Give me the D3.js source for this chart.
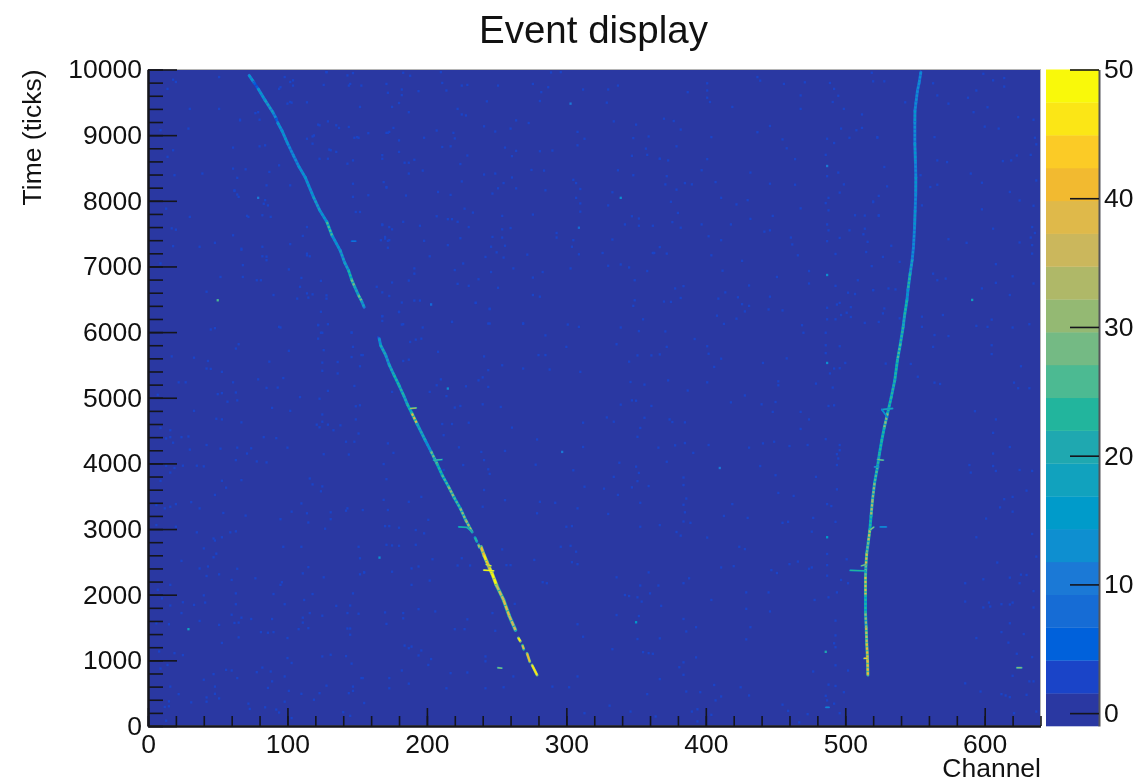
<!DOCTYPE html>
<html>
<head>
<meta charset="utf-8">
<title>Event display</title>
<script src="https://cdn.jsdelivr.net/npm/d3@7"></script>
<style>
  html, body { margin: 0; padding: 0; background: #fff; }
  svg { display: block; filter: blur(0.4px); }
  text { font-family: "Liberation Sans", Arial, sans-serif; fill: #111; }
</style>
</head>
<body>
<div id="chart"></div>
<script>
/* ---------- Data ---------- */

// colour bands, lowest value first (20 contours between -1 and 50)
const palette = ['#2a38a2', '#1a44c8', '#0061db', '#166cd5', '#1b79d6', '#0e8fd0', '#009bca', '#11a2be', '#1fa8b0', '#22b59d',
  '#4cba92', '#74ba84', '#94b973', '#afb868', '#cbb75c', '#dfb94a', '#f2ba30', '#fbcb26', '#fbe616', '#f9f90a'];
const xTicks = [0, 100, 200, 300, 400, 500, 600];
const yTicks = [0, 1000, 2000, 3000, 4000, 5000, 6000, 7000, 8000, 9000, 10000];
const zTicks = [0, 10, 20, 30, 40, 50];

// tracks: [channel, time, value]
const leftUpper = [[72.5,9910,16],[76,9800,6],[79,9706,15],[84,9530,17],[89.5,9350,14],[92,9250,6],[93,9190,16],[96,9072,15],
  [100,8880,14],[104.3,8690,13],[108,8530,15],[112.7,8360,15],[118.7,8056,17],[123,7860,16],[128.3,7676,26],[132,7470,15],
  [137.8,7245,18],[141,7060,17],[143.8,6940,24],[146,6800,28],[148,6700,20],[151,6560,28],[153,6480,18],[155,6380,14]];
const leftLower = [[165.8,5900,15],[166.8,5800,20],[170.5,5647,18],[173,5500,20],[176.5,5342,24],[180,5190,22],[183.3,5038,20],
  [186,4900,24],[189.3,4760,38],[193,4600,20],[198.8,4353,16],[203,4180,28],[207.2,3998,24],[211,3820,26],[215.6,3642,32],
  [219.5,3480,26],[224,3313,30],[228,3130,34],[232.4,2957,30]];
const leftBottom = [[238.8,2729,42],[241,2600,46],[243,2500,40],[245,2400,50],[246.7,2324,48],[250,2140,36],[255,1918,38],
  [259,1680,35],[263.5,1461,42]];
const leftDashes = [
  [[234.5,2870,22],[235.8,2810,22]], [[237,2760,34],[237.6,2720,34]],
  [[265.6,1340,45],[267,1290,45]], [[268.5,1230,38],[269.5,1170,38]],
  [[271.8,1106,42],[273.8,979,42]], [[275.4,928,45],[279,776,45]]];
const rightTrack = [[554.2,9960,12],[553,9800,14],[551.8,9680,13],[550.7,9500,14],[550,9376,15],[549.9,9200,14],[549.9,8870,15],
  [550.3,8600,13],[550.6,8360,15],[550.5,8100,14],[550.1,7854,16],[549.7,7600,13],[548.9,7295,14],[548,7100,17],[546.5,6890,22],
  [545,6650,16],[544.2,6484,24],[542.5,6250,20],[541.5,6078,22],[539.5,5820,26],[537.4,5571,24],[535.5,5266,22],[533,5012,24],
  [530.3,4760,30],[528,4550,24],[526.2,4353,24],[524.5,4150,22],[523.1,3947,26],[521,3700,30],[519.5,3440,33],[518.5,3200,24],
  [517.6,2983,36],[516.5,2800,28],[515.4,2629,38],[514.8,2450,28],[514.5,2272,38],[514.5,2000,24],[514.5,1715,30],[515,1500,36],
  [515.4,1259,42],[516,1000,40],[516.2,776,44]];
// short side branches and delta rays
const branches = [
  [[222.8,3033,24],[228.8,3024,22],[232.4,2957,24]],
  [[188,4836,36],[192.4,4845,40]],
  [[204.8,4049,26],[210.8,4059,22]],
  [[240.7,2374,50],[247.9,2364,50]],
  [[242.5,2460,46],[246,2440,46]],
  [[250.8,887,34],[253.8,880,20]],
  [[526.2,4820,20],[533.9,4836,24]],
  [[526.2,4820,16],[530.3,4700,24]],
  [[523.1,4059,30],[527.4,4049,26]],
  [[521,3947,18],[524,3947,18]],
  [[525,3033,14],[529.5,3033,14]],
  [[518,2990,32],[520.5,3030,28]],
  [[503.5,2370,24],[514.5,2364,36]],
  [[511.5,2440,32],[515,2460,36]],
  [[513.5,1030,44],[516,1030,44]],
  [[146,7385,10],[149,7385,10]],
  [[623,887,34],[626.5,887,34]],
  [[486,285,14],[488.5,285,14]]];

// isolated hits, mid blue
const speckles = [[45,6040],[48,6060],[94,6080],[122,6110],[129,6120],[124,5990],[122,5900],[146,5990],[65,5815],[63,5750],[147,5775],[101,5715],[126,5725],[17,5630],[33,5610],[43,5560],[146,5620],[154,5650],[87,5550],[125,5535],[136,5545],[42,5445],[45,5440],[53,5395],[125,5410],[152,5480],[136,5370],[97,5300],[79,5280],[22,5235],[27,5235],[61,5235],[85,5150],[93,5155],[148,5180],[129,5105],[50,5055],[53,5070],[63,5080],[7,5045],[109,5010],[123,4985],[57,4940],[64,4960],[149,4870],[152,4885],[89,4845],[102,4800],[33,4800],[125,4745],[49,4680],[53,4670],[149,4670],[67,4625],[121,4590],[125,4635],[129,4590],[138,4580],[123,4550],[9,4540],[16,4505],[133,4505],[151,4455],[16,4400],[24,4400],[29,4410],[83,4400],[92,4385],[13,4380],[18,4315],[42,4280],[142,4330],[148,4330],[52,4225],[64,4240],[74,4230],[100,4240],[30,4210],[71,4150],[126,4140],[144,4135],[63,4050],[78,4030],[85,4015],[25,3965],[35,3965],[40,3955],[13,3965],[19,3930],[16,3860],[67,3745],[53,3735],[9,3735],[116,3770],[118,3680],[125,3650],[124,3575],[56,3630],[48,3520],[6,3365],[20,3380],[31,3410],[16,3340],[37,3315],[12,3315],[110,3390],[103,3265],[54,3245],[70,3205],[114,3240],[131,3255],[142,3280],[154,3290],[143,3315],[95,3150],[131,3150],[115,3100],[127,3005],[6,3060],[20,3035],[35,2950],[59,2950],[63,2965],[47,2855],[48,2825],[53,2875],[97,2730],[110,2730],[40,2705],[151,2730],[49,2625],[47,2570],[152,2555],[24,2515],[37,2400],[43,2430],[64,2395],[115,2420],[111,2325],[51,2310],[42,2285],[155,2340],[152,2310],[60,2225],[77,2250],[126,2265],[96,2190],[95,2150],[16,2150],[7,2075],[90,2010],[118,2010],[147,2020],[63,2020],[40,1990],[10,1945],[25,1885],[41,1880],[112,1920],[63,1855],[98,1855],[33,1845],[16,1835],[135,1830],[145,1835],[24,1720],[116,1720],[125,1680],[143,1720],[151,1710],[60,1695],[67,1650],[74,1630],[89,1630],[111,1650],[37,1600],[62,1570],[65,1575],[111,1575],[15,1550],[51,1540],[6,1565],[81,1430],[86,1420],[90,1430],[108,1475],[115,1490],[143,1485],[145,1485],[145,1390],[65,1350],[100,1340],[53,1265],[8,1135],[19,1110],[25,1080],[125,1060],[131,1085],[142,1065],[100,1035],[103,960],[146,950],[14,930],[9,875],[82,890],[56,855],[60,845],[78,820],[88,830],[47,790],[98,755],[64,730],[154,730],[40,705],[89,680],[48,600],[16,600],[86,580],[128,615],[147,600],[101,535],[147,535],[22,485],[48,490],[110,490],[123,500],[144,500],[51,420],[42,435],[42,370],[119,400],[15,375],[31,360],[98,370],[72,340],[12,290],[15,300],[73,260],[84,285],[155,350],[92,250],[94,205],[103,120],[145,155],[13,80],[140,210],
  [183,9950],[188,9905],[210,9960],[172,9645],[182,9695],[182,9610],[194,9670],[211,9795],[214,9680],[225,9755],[229,9765],[251,9755],[276,9780],[289,9955],[296,9960],[282,9655],[287,9730],[312,9695],[337,9755],[330,9695],[180,9490],[175,9430],[187,9350],[222,9400],[225,9315],[228,9300],[243,9515],[281,9520],[329,9495],[176,9110],[172,9035],[207,9070],[219,9035],[241,9135],[249,9055],[260,9100],[264,9225],[273,9185],[308,9050],[313,8945],[334,9210],[350,9160],[359,8980],[348,8955],[180,8920],[198,8960],[220,8950],[211,8820],[217,8830],[256,8810],[264,8760],[290,8765],[281,8755],[308,8845],[357,8795],[358,8700],[347,8685],[367,8640],[180,8745],[168,8695],[229,8690],[184,8580],[187,8580],[191,8625],[224,8560],[261,8680],[197,8460],[187,8415],[241,8400],[249,8415],[261,8355],[275,8470],[284,8460],[337,8465],[348,8390],[225,8295],[255,8270],[307,8270],[305,8320],[310,8180],[171,8200],[185,8080],[208,8135],[217,8090],[251,8190],[247,8110],[264,8190],[285,8160],[333,8130],[307,8045],[310,7960],[227,7880],[233,7820],[254,7770],[276,7790],[310,7835],[330,7930],[207,7765],[215,7720],[218,7720],[222,7680],[183,7680],[168,7630],[175,7565],[195,7620],[230,7600],[254,7565],[260,7585],[347,7765],[352,7730],[352,7620],[342,7640],[293,7510],[293,7440],[305,7400],[224,7430],[170,7425],[172,7390],[198,7390],[215,7325],[247,7450],[254,7440],[256,7315],[333,7410],[172,7285],[246,7300],[250,7215],[304,7300],[202,7155],[242,7145],[255,7135],[272,7180],[309,7185],[326,7205],[362,7205],[226,7045],[191,6970],[191,6890],[220,6945],[246,6915],[262,6970],[283,6915],[303,6970],[330,7010],[339,7030],[345,6985],[358,6930],[175,6755],[187,6785],[237,6805],[276,6830],[349,6790],[222,6735],[230,6705],[251,6675],[168,6605],[173,6550],[191,6480],[195,6480],[182,6450],[235,6445],[276,6565],[281,6540],[349,6485],[348,6400],[180,6310],[245,6350],[168,6245],[218,6155],[245,6130],[197,6070],[182,6115],[269,6130],[301,6115],[309,6080],[339,6070],[355,6195],
  [352,6015],[371,6010],[392,5895],[300,5775],[336,5815],[372,5775],[401,5785],[402,5670],[351,5645],[361,5645],[367,5660],[345,5550],[411,5595],[406,5470],[441,5530],[458,5600],[470,5990],[486,5990],[486,5800],[486,5680],[496,5785],[492,5445],[496,5450],[500,5530],[489,5370],[310,5395],[373,5265],[346,5240],[401,5235],[356,5200],[452,5190],[452,5250],[479,5215],[387,5110],[491,5155],[428,5035],[347,4960],[350,4955],[339,4895],[361,4875],[418,4930],[440,4900],[450,4935],[488,4875],[492,4885],[468,4785],[448,4785],[356,4695],[329,4700],[334,4635],[312,4620],[374,4670],[376,4630],[385,4625],[474,4670],[353,4540],[468,4525],[486,4370],[351,4405],[366,4240],[378,4275],[385,4310],[402,4280],[431,4240],[441,4305],[449,4330],[460,4265],[473,4280],[496,4280],[496,4200],[494,4140],[312,4250],[391,4160],[338,4010],[372,4025],[439,3960],[495,4075],[494,3975],[305,3895],[350,3950],[352,3855],[334,3795],[384,3785],[384,3670],[450,3820],[479,3795],[351,3730],[313,3645],[327,3615],[347,3635],[359,3655],[337,3520],[452,3550],[463,3505],[494,3605],[386,3465],[353,3400],[419,3380],[487,3380],[490,3350],[384,3370],[308,3315],[330,3230],[385,3255],[413,3200],[430,3170],[477,3170],[300,3035],[304,3045],[367,3060],[353,3035],[384,3115],[389,3095],[455,3095],[459,3110],[493,3110],[476,2960],[379,2955],[382,2900],[401,2870],[303,2745],[296,2730],[424,2730],[428,2695],[307,2655],[304,2495],[308,2465],[487,2620],[501,2540],[466,2505],[460,2465],[487,2450],[411,2415],[420,2435],[359,2340],[336,2265],[447,2375],[451,2330],[474,2395],[476,2415],[487,2290],[388,2250],[497,2225],[384,2175],[353,2140],[366,2140],[502,2175],[360,2020],[342,1995],[345,1980],[351,1960],[429,2035],[445,2035],[494,2035],[404,1920],[354,1895],[368,1830],[488,1960],[478,1920],[429,1785],[446,1745],[336,1690],[352,1675],[384,1630],[308,1550],[493,1605],[393,1505],[386,1440],[432,1505],[312,1360],[351,1325],[367,1335],[429,1320],[493,1380],[492,1260],[493,1200],[333,1170],[355,1125],[359,1110],[362,1100],[393,1045],[384,970],[381,895],[493,925],[384,780],[308,755],[367,715],[502,845],[477,830],[302,590],[488,630],[493,610],[406,625],[425,590],[386,525],[396,515],[358,485],[431,465],[411,450],[486,460],[487,390],[499,515],[407,390],[331,310],[455,325],[492,340],[313,195],[346,220],[364,145],[390,220],[394,255],[404,170],[459,230],[473,180],[496,195],[394,70],[467,55],
  [437,9885],[439,9830],[401,9790],[456,9780],[471,9805],[489,9795],[520,9820],[519,9950],[492,9705],[401,9680],[387,9655],[401,9570],[403,9505],[468,9605],[495,9600],[491,9505],[419,9430],[468,9400],[499,9400],[512,9315],[370,9250],[377,9215],[382,9085],[437,9045],[446,9140],[404,8970],[497,9100],[508,9075],[512,9110],[455,8935],[487,8945],[492,8880],[503,8960],[523,8960],[379,8830],[458,8800],[486,8700],[367,8640],[373,8615],[401,8635],[464,8635],[397,8465],[432,8430],[495,8430],[372,8375],[487,8375],[371,8250],[385,8270],[390,8250],[407,8285],[446,8260],[464,8245],[499,8250],[379,8170],[496,8125],[411,8045],[488,8045],[375,7985],[430,8010],[422,7945],[486,7965],[520,7990],[524,8075],[468,7885],[488,7855],[380,7815],[432,7725],[448,7770],[507,7780],[514,7775],[524,7770],[376,7675],[362,7620],[382,7590],[418,7640],[397,7640],[487,7640],[514,7575],[442,7530],[446,7550],[488,7550],[503,7550],[513,7490],[402,7460],[461,7440],[496,7435],[411,7400],[487,7385],[462,7335],[516,7375],[367,7295],[363,7205],[372,7195],[404,7170],[466,7170],[493,7190],[515,7220],[426,7085],[519,7005],[412,6935],[474,6930],[451,6840],[509,6790],[474,6740],[384,6700],[431,6710],[493,6705],[378,6665],[414,6605],[502,6600],[507,6580],[520,6640],[382,6520],[409,6510],[423,6530],[446,6540],[370,6465],[375,6460],[426,6425],[431,6400],[487,6370],[494,6420],[496,6445],[504,6380],[445,6345],[455,6330],[428,6315],[408,6250],[422,6205],[413,6125],[469,6105],[493,6195],[487,6195],[504,6230],[514,6140],[524,6155],[497,6260],[501,6295],
  [51,9885],[20,9810],[18,9845],[14,9705],[30,9400],[51,9400],[66,9235],[29,9100],[9,9075],[143,9910],[128,9960],[102,9810],[98,9885],[145,9780],[171,9780],[94,9705],[102,9505],[152,9430],[79,9350],[123,9150],[135,9150],[144,9125],[150,8970],[119,8995],[131,8770],[173,9050],[169,8285],[143,8565],[18,8770],[14,8670],[39,8415],[19,8390],[62,8160],[65,8060],[13,7880],[30,7755],[17,7580],[20,7560],[37,7300],[48,7360],[18,7310],[67,7270],[88,7755],[72,7755],[85,7150],[83,7955],[82,7300],[114,7170],[9,7045],[52,6840],[42,6615],[90,6565],[109,6690],[78,6790],[114,6590],[164,6690],[173,7600],[167,7400],
  [599,9935],[606,9835],[614,9870],[614,9740],[594,9680],[588,9570],[592,9350],[602,9425],[624,9275],[635,9235],[600,9130],[610,9100],[636,8960],[637,8860],[623,8690],[633,8700],[619,8615],[613,8605],[590,8415],[598,8275],[637,8310],[618,8135],[625,8005],[635,7925],[598,7870],[606,7575],[634,7600],[636,7510],[633,7440],[587,7360],[625,7365],[634,7325],[634,7195],[608,7035],[620,6850],[608,6750],[635,6740],[598,6665],[618,6565],[605,6190],[594,6095],[602,6080],[620,6070],[632,6120],[605,5800],[605,5665],[626,5480],[621,5230],[632,5145],[624,5145],
  [528,9820],[543,9500],[523,8970],[564,8970],[566,9605],[574,9480],[563,9790],[566,8615],[573,8590],[554,8390],[561,8210],[566,8245],[528,8515],[530,8220],[520,7980],[524,7780],[555,7930],[574,7415],[533,7315],[527,7145],[539,7070],[563,6890],[572,6815],[566,6790],[520,6640],[531,6665],[536,6650],[528,6360],[527,6285],[555,6235],[539,6210],[570,6260],[564,5955],[555,6080],[563,5775],[574,5940],[529,5520],[547,5515],[552,5320],[568,5210],[564,5230],
  [593,4795],[608,4670],[606,4465],[618,4250],[606,4150],[589,3975],[590,3860],[606,3960],[608,3885],[625,3900],[634,3885],[630,3585],[620,3490],[614,3455],[611,3330],[620,3265],[601,3160],[634,2925],[594,2875],[609,2490],[637,2580],[599,2235],[618,2260],[626,2305],[630,2300],[586,2175],[625,2175],[635,2055],[586,1895],[603,1880],[604,1820],[599,1805],[612,1855],[620,1880],[618,1850],[635,1805],[618,1565],[612,1430],[628,1400],[594,1340],[617,1270],[623,1100],[634,1050],[620,765],[632,680],[635,680],[586,650],[597,525],[612,485],[615,465],[618,440],[630,475],[637,220],[621,195],
  [168,6240],[180,6305],[183,6120],[203,6425],[218,6155],[235,6445],[245,6357],[244,6130],[269,6130],[285,5950],[188,5850],[192,5885],[196,5900],[153,5650],[208,5700],[187,5580],[183,5560],[241,5630],[280,5650],[285,5650],[254,5495],[244,5420],[269,5445],[288,5430],[210,5280],[207,5190],[237,5265],[240,5310],[244,5165],[228,5175],[175,5090],[202,5090],[214,5025],[224,4875],[220,4850],[240,4900],[253,4860],[211,4600],[218,4600],[230,4620],[261,4545],[279,4365],[239,4175],[256,4190],[223,4245],[212,4430],[172,4305],[176,4160],[169,3990],[241,4050],[244,3910],[245,3840],[226,3975],[278,3980],[212,3900],[171,3760],[241,3595],[196,3490],[187,3415],[169,3445],[172,3290],[256,3440],[281,3415],[292,3400],[240,3340],[279,3240],[201,3140],[192,2985],[198,2935],[170,3045],[173,3045],[180,3020],[171,2760],[175,2750],[180,2745],[192,2760],[204,2540],[231,2445],[225,2555],[254,2690],[257,2450],[260,2450],[277,2530],[202,2215],[189,2400],[194,2430],[189,2150],[155,2340],[175,2350],[222,2445],[283,2190],[286,2175],[170,1730],[183,1720],[194,1780],[183,1640],[229,1625],[247,1720],[171,1555],[206,1745],[220,1475],[227,1475],[249,1450],[263,1860],[184,1225],[189,1210],[196,1150],[187,1185],[194,1075],[203,1020],[201,930],[242,1060],[242,985],[182,845],[217,805],[229,815],[153,730],[173,730],[262,755],[173,575],[187,645],[214,575],[242,575],[255,590],[290,600],
  [128,9960],[147,9945],[104,9835],[104,9755],[95,9730],[126,9765],[144,9755],[153,9755],[114,9500],[103,9495],[100,9480],[77,9335],[66,9225],[80,9235],[129,9210],[122,9160],[137,9110],[151,8960],[148,8960],[114,8945],[118,8980],[158,9030],[171,9035],[61,8810],[80,8830],[84,8845],[118,8870],[130,8780],[123,8640],[129,8640],[135,8745],[147,8615],[168,8640],[94,8540],[61,8490],[70,8480],[87,8440],[64,8350],[102,8235],[85,8235],[147,8260],[171,8210],[62,8150],[64,8095],[84,8010],[86,7930],[147,8060],[158,8085],[149,7830],[152,7830],[71,7770],[82,7780],[168,7640],[170,7450],[173,7400],[114,7600],[111,7465],[61,7475],[102,7340],[67,7255],[116,7155],[114,7195],[82,7155],[68,7020],[85,7095],[81,6790],[101,6955],[110,6825],[68,6840],[124,6780],[128,6560],[128,6510],[118,6575],[115,6525],[107,6510],[124,6310],[122,6105],[125,5990],[146,5995],[95,6070],[168,6170],[165,5920]];

// the few hits that stand out from the rest: [channel, time, value]
const hotSpots = [[29,1475,18],[50,6485,26],[203,6420,8],[79,8045,11],[303,9480,10],[339,8045,12],[309,7590,9],[487,5530,14],
  [297,4175,10],[410,3930,11],[487,2875,16],[350,1580,16],[486,1130,20],[591,6490,18],[166,2565,14],[215,5140,12],[487,8530,10],[487,6870,12]];

/* ---------- Layout and scales ---------- */

const W = 1138, H = 783;
const margin = { left: 148, right: 1040.5, top: 69.5, bottom: 726 };
const bar = { left: 1046, right: 1099 };

const x = d3.scaleLinear().domain([0, 640]).range([margin.left, margin.right]);
const y = d3.scaleLinear().domain([0, 10000]).range([margin.bottom, margin.top]);
const z = d3.scaleLinear().domain([-1, 50]).range([margin.bottom, margin.top]);
const colour = d3.scaleQuantize().domain([-1, 50]).range(palette);

const svg = d3.select('#chart').append('svg')
  .attr('width', W).attr('height', H).attr('viewBox', `0 0 ${W} ${H}`);

svg.append('clipPath').attr('id', 'plot-clip').append('rect')
  .attr('x', margin.left).attr('y', margin.top)
  .attr('width', margin.right - margin.left).attr('height', margin.bottom - margin.top);

/* ---------- Heat map ---------- */

const plot = svg.append('g').attr('clip-path', 'url(#plot-clip)');
plot.append('rect')
  .attr('x', margin.left).attr('y', margin.top)
  .attr('width', margin.right - margin.left).attr('height', margin.bottom - margin.top)
  .attr('fill', palette[0]);

function drawCells(rows, value) {
  plot.append('g').selectAll('rect').data(rows).join('rect')
    .attr('x', d => x(d[0] - 0.8))
    .attr('y', d => y(d[1] + 18))
    .attr('width', x(1.6) - x(0))
    .attr('height', y(0) - y(36))
    .attr('fill', d => colour(value === undefined ? d[2] : value));
}
drawCells(speckles, 3.5);
drawCells(hotSpots);

const line = d3.line().x(d => x(d[0])).y(d => y(d[1]));

// each stroke is a pale halo under a beaded core, segment by segment
function drawStroke(points, haloWidth, coreWidth, dash) {
  const segments = d3.pairs(points);
  const g = plot.append('g').attr('fill', 'none');
  g.selectAll('.halo').data(segments).join('path').attr('class', 'halo')
    .attr('d', line)
    .attr('stroke-linecap', 'round')
    .attr('stroke-width', haloWidth)
    .attr('stroke', d => colour(d[0][2] * 0.62));
  g.selectAll('.core').data(segments).join('path').attr('class', 'core')
    .attr('d', line)
    .attr('stroke-dasharray', dash)
    .attr('stroke-width', coreWidth)
    .attr('stroke', d => colour(d[0][2]));
}

[leftUpper, leftLower, rightTrack].forEach(t => drawStroke(t, 3, 2.2, '2.4 1.6'));
drawStroke(leftBottom, 3.6, 2.4, '5 1');
leftDashes.forEach(t => drawStroke(t, 2.8, 2, null));
branches.forEach(t => drawStroke(t, 1.8, 1.1, null));

/* ---------- Frame and axes ---------- */

svg.append('rect')
  .attr('x', margin.left).attr('y', margin.top)
  .attr('width', margin.right - margin.left).attr('height', margin.bottom - margin.top)
  .attr('fill', 'none').attr('stroke', '#b5b5b5').attr('stroke-width', 1);

function styleAxis(g, size) {
  g.selectAll('.domain').attr('stroke', '#15151c').attr('stroke-width', 2);
  g.selectAll('.tick line').attr('stroke', '#15151c').attr('stroke-width', 1.6);
  g.selectAll('text').attr('font-size', size);
  g.attr('font-family', null);
}

const xMinor = d3.range(0, 641, 20), yMinor = d3.range(0, 10001, 200);

svg.append('g').attr('transform', `translate(0,${margin.bottom})`)
  .call(d3.axisBottom(x).tickValues(xMinor).tickSize(-10).tickSizeOuter(0).tickFormat(''))
  .call(styleAxis, 26.5);
svg.append('g').attr('transform', `translate(${margin.left},0)`)
  .call(d3.axisLeft(y).tickValues(yMinor).tickSize(-15).tickSizeOuter(0).tickFormat(''))
  .call(styleAxis, 26.5);

svg.append('g').attr('transform', `translate(0,${margin.bottom})`)
  .call(d3.axisBottom(x).tickValues(xTicks).tickSize(-18).tickSizeOuter(0).tickPadding(8).tickFormat(d3.format('d')))
  .call(styleAxis, 26.5);
svg.append('g').attr('transform', `translate(${margin.left},0)`)
  .call(d3.axisLeft(y).tickValues(yTicks).tickSize(-29).tickSizeOuter(0).tickPadding(6).tickFormat(d3.format('d')))
  .call(styleAxis, 26.5);

/* ---------- Colour bar ---------- */

const bandStep = 51 / palette.length;
svg.append('g').selectAll('rect').data(palette).join('rect')
  .attr('x', bar.left)
  .attr('width', bar.right - bar.left)
  .attr('y', (d, i) => z(-1 + (i + 1) * bandStep))
  .attr('height', z(0) - z(bandStep) + 0.3)
  .attr('fill', d => d);

svg.append('g').attr('transform', `translate(${bar.right},0)`)
  .call(d3.axisRight(z).tickValues(zTicks).tickSize(-29).tickSizeOuter(0).tickPadding(5).tickFormat(d3.format('d')))
  .call(styleAxis, 26.5)
  .call(g => g.selectAll('.domain').attr('stroke', '#55555a'));

/* ---------- Titles ---------- */

svg.append('text').attr('x', 593.5).attr('y', 43)
  .attr('text-anchor', 'middle').attr('font-size', 38.5).text('Event display');
svg.append('text').attr('x', 1041).attr('y', 777)
  .attr('text-anchor', 'end').attr('font-size', 26.5).text('Channel');
svg.append('text')
  .attr('transform', `translate(41,${margin.top}) rotate(-90)`)
  .attr('text-anchor', 'end').attr('font-size', 26.5).text('Time (ticks)');
</script>
</body>
</html>
